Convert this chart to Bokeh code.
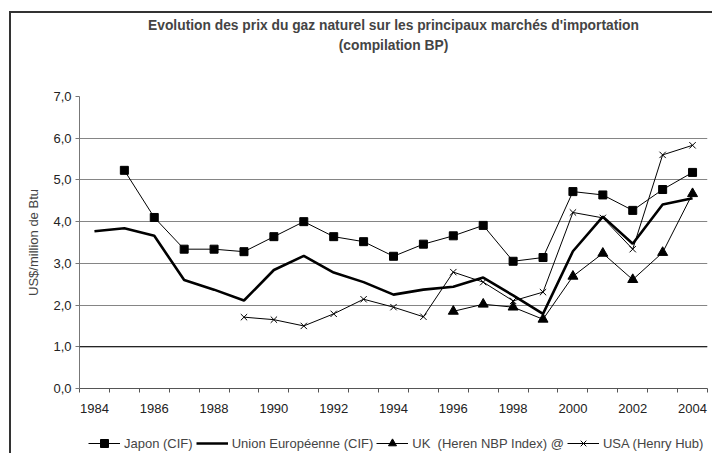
from bokeh.plotting import figure
from bokeh.layouts import column
from bokeh.models import (FixedTicker, CustomJSTickFormatter, Legend, LegendItem,
                          Title, Span, Range1d)
from bokeh.embed import file_html
from bokeh.resources import INLINE

# ---- data ----
years_jp = list(range(1985, 2005))
japon = [5.23, 4.10, 3.34, 3.34, 3.28, 3.64, 4.00, 3.64, 3.52, 3.17,
         3.46, 3.66, 3.91, 3.05, 3.14, 4.72, 4.64, 4.27, 4.77, 5.18]

years_eu = list(range(1984, 2005))
union_eu = [3.77, 3.84, 3.66, 2.60, 2.37, 2.11, 2.84, 3.18, 2.78, 2.55, 2.25,
            2.37, 2.44, 2.66, 2.23, 1.79, 3.29, 4.12, 3.47, 4.41, 4.56]

years_uk = list(range(1996, 2005))
uk_nbp = [1.85, 2.02, 1.95, 1.66, 2.69, 3.24, 2.61, 3.26, 4.67]

years_us = list(range(1989, 2005))
usa_hh = [1.71, 1.65, 1.50, 1.79, 2.14, 1.95, 1.72, 2.79, 2.55, 2.10,
          2.31, 4.22, 4.09, 3.34, 5.60, 5.83]

label_years = list(range(1984, 2005, 2))
y_ticks = [0, 1, 2, 3, 4, 5, 6, 7]

title1 = "Evolution des prix du gaz naturel sur les principaux marchés d'importation"
title2 = "(compilation BP)"
y_label = "US$/million de Btu"
names = ["Japon (CIF)", "Union Européenne (CIF)", "UK  (Heren NBP Index) @", "USA (Henry Hub)"]

FONT = "Liberation Sans"
FS = "13px"
TFS = "13.8px"
FRAME = "2px solid #333333"

STYLES = {
    "jp_line": dict(line_color="black", line_width=1),
    "jp_mark": dict(marker="square", size=8, fill_color="black", line_color="black"),
    "eu_line": dict(line_color="black", line_width=2.6),
    "uk_line": dict(line_color="black", line_width=1),
    "uk_mark": dict(marker="triangle", size=10, fill_color="black", line_color="black"),
    "us_line": dict(line_color="black", line_width=1),
    "us_mark": dict(marker="x", size=9, line_color="black", line_width=1),
}


def draw_series(fig):
    return dict(
        jp_l=fig.line(years_jp, japon, **STYLES["jp_line"]),
        jp_m=fig.scatter(years_jp, japon, **STYLES["jp_mark"]),
        eu_l=fig.line(years_eu, union_eu, **STYLES["eu_line"]),
        uk_l=fig.line(years_uk, uk_nbp, **STYLES["uk_line"]),
        uk_m=fig.scatter(years_uk, uk_nbp, **STYLES["uk_mark"]),
        us_l=fig.line(years_us, usa_hh, **STYLES["us_line"]),
        us_m=fig.scatter(years_us, usa_hh, **STYLES["us_mark"]),
    )


# ---------------- main chart ----------------
p = figure(width=703, height=405, output_backend="svg", toolbar_location=None,
           x_range=Range1d(1983.5, 2004.5), y_range=Range1d(0, 7),
           min_border_left=68, min_border_right=7, min_border_top=83, min_border_bottom=30)
p.styles = {"margin-left": "9px", "margin-top": "11px",
            "border-left": FRAME, "border-top": FRAME}
p.outline_line_color = None
p.background_fill_color = "white"
p.border_fill_color = "white"

# titles: p.title is outermost; the first added panel is closest to the plot
p.title.text = title1
p.title.align = "center"
p.title.text_font = FONT
p.title.text_font_size = TFS
p.title.text_font_style = "bold"
p.title.standoff = 4
spacer = Title(text=" ", text_font_size="1px", standoff=40)
p.add_layout(spacer, "above")
t2 = Title(text=title2, align="center", text_font=FONT, text_font_size=TFS,
           text_font_style="bold", standoff=2)
p.add_layout(t2, "above")

# grid
p.xgrid.grid_line_color = None
p.ygrid.grid_line_color = "#858585"
p.ygrid.grid_line_width = 1
p.ygrid.ticker = FixedTicker(ticks=y_ticks)
p.add_layout(Span(location=1, dimension="width", line_color="black", line_width=1))

# axes
p.xaxis.ticker = FixedTicker(ticks=label_years,
                             minor_ticks=[y - 0.5 for y in range(1984, 2006)])
p.xaxis.major_tick_line_color = None
p.xaxis.major_tick_out = 4
p.xaxis.major_tick_in = 0
p.xaxis.minor_tick_line_color = "#555555"
p.xaxis.minor_tick_out = 4
p.xaxis.minor_tick_in = 0
p.xaxis.axis_line_color = "#555555"
p.xaxis.major_label_standoff = 11

p.yaxis.ticker = FixedTicker(ticks=y_ticks)
p.yaxis.formatter = CustomJSTickFormatter(code="return tick.toFixed(1).replace('.', ',');")
p.yaxis.axis_line_color = "#777777"
p.yaxis.major_tick_line_color = "#777777"
p.yaxis.major_tick_out = 4
p.yaxis.major_tick_in = 0
p.yaxis.minor_tick_line_color = None
p.yaxis.major_label_standoff = 4
p.yaxis.axis_label = y_label
p.yaxis.axis_label_text_font = FONT
p.yaxis.axis_label_text_font_size = FS
p.yaxis.axis_label_text_font_style = "normal"
p.yaxis.axis_label_standoff = 9

for ax in (p.xaxis, p.yaxis):
    ax.major_label_text_font = FONT
    ax.major_label_text_font_size = FS
    ax.major_label_text_color = "#222222"

draw_series(p)

# ---------------- legend strip (frame aligned with the chart above) ----------------
lg = figure(width=703, height=37, output_backend="svg", toolbar_location=None,
            x_range=Range1d(0, 1), y_range=Range1d(0, 1),
            x_axis_type=None, y_axis_type=None,
            min_border_left=68, min_border_right=7, min_border_top=0, min_border_bottom=0)
lg.styles = {"margin-left": "9px", "border-left": FRAME}
lg.outline_line_color = None
lg.xgrid.grid_line_color = None
lg.ygrid.grid_line_color = None
lg.border_fill_color = "white"
lg.background_fill_color = "white"

# same series, outside this strip's visible range: only their legend glyphs show
g = draw_series(lg)

legend = Legend(items=[
    LegendItem(label=names[0], renderers=[g["jp_l"], g["jp_m"]]),
    LegendItem(label=names[1], renderers=[g["eu_l"]]),
    LegendItem(label=names[2], renderers=[g["uk_l"], g["uk_m"]]),
    LegendItem(label=names[3], renderers=[g["us_l"], g["us_m"]]),
], orientation="horizontal", location=(9, 0),
    border_line_color=None, background_fill_alpha=0,
    label_text_font=FONT, label_text_font_size=FS,
    glyph_width=32, glyph_height=20, label_height=20, label_standoff=4, spacing=3,
    padding=0, margin=0)
lg.add_layout(legend, "center")

layout = column(p, lg, spacing=0)
open("out.html", "w").write(file_html(layout, INLINE))
